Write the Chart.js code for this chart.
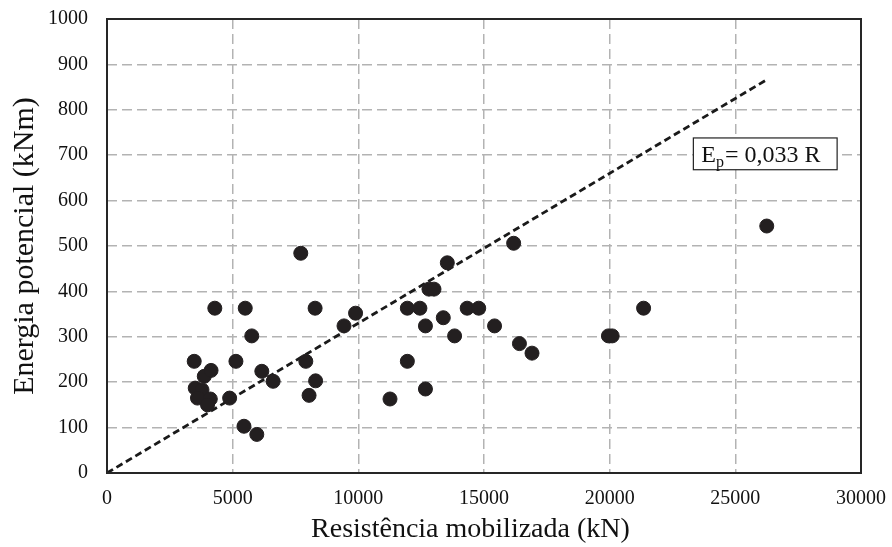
<!DOCTYPE html>
<html>
<head>
<meta charset="utf-8">
<script src="https://cdn.jsdelivr.net/npm/chart.js@4/dist/chart.umd.min.js"></script>
<style>
  html, body { margin: 0; padding: 0; background: #ffffff; }
  #wrap { width: 892px; height: 547px; }
</style>
</head>
<body>
<div id="wrap"><canvas id="c" width="892" height="547"></canvas></div>
<script>
// Data
const resistencia = [3470, 3510, 3780, 3870, 4140, 3600, 4110, 4000, 4290, 4880,
  5130, 5450, 5500, 5760, 5960, 6160, 6610, 7710, 7910, 8040,
  8280, 8300, 9430, 9890, 11260, 11950, 11950, 12450, 12670, 12670,
  12810, 13010, 13380, 13540, 13830, 14330, 14790, 15420, 16180, 16410,
  16910, 19950, 20100, 21350, 26250];
const energia = [246, 187, 183, 213, 226, 165, 163, 150, 363, 165,
  246, 103, 363, 302, 85, 224, 202, 484, 246, 171,
  363, 203, 324, 352, 163, 363, 246, 363, 324, 185,
  405, 405, 342, 463, 302, 363, 363, 324, 506, 285,
  264, 302, 302, 363, 544];
const coefficient = 0.033;          // Ep = 0,033 R
const trendX = [0, 26250];
const xTicks = [0, 5000, 10000, 15000, 20000, 25000, 30000];
const yTicks = [0, 100, 200, 300, 400, 500, 600, 700, 800, 900, 1000];
const xTitle = 'Resistência mobilizada (kN)';
const yTitle = 'Energia potencial (kNm)';

const FONT = "'Liberation Serif', 'Times New Roman', serif";

const points = resistencia.map((x, i) => ({ x: x, y: energia[i] }));
const trend = trendX.map(x => ({ x: x, y: coefficient * x }));

const frameAndLabel = {
  id: 'frameAndLabel',
  afterDatasetsDraw(chart) {
    const ctx = chart.ctx;
    const a = chart.chartArea;
    const xs = chart.scales.x, ys = chart.scales.y;
    ctx.save();
    // plot frame
    ctx.strokeStyle = '#262626';
    ctx.lineWidth = 2;
    ctx.strokeRect(a.left, a.top, a.right - a.left, a.bottom - a.top);
    // equation box
    const bx = xs.getPixelForValue(23330), by = ys.getPixelForValue(738);
    const bw = xs.getPixelForValue(29050) - bx, bh = ys.getPixelForValue(668) - by;
    ctx.fillStyle = '#ffffff';
    ctx.fillRect(bx, by, bw, bh);
    ctx.strokeStyle = '#222222';
    ctx.lineWidth = 1.2;
    ctx.strokeRect(bx, by, bw, bh);
    ctx.fillStyle = '#111111';
    ctx.textBaseline = 'alphabetic';
    ctx.textAlign = 'left';
    const base = by + bh / 2 + 8;
    let tx = bx + 8;
    ctx.font = '24px ' + FONT;
    ctx.fillText('E', tx, base);
    tx += ctx.measureText('E').width;
    ctx.font = '16px ' + FONT;
    ctx.fillText('p', tx, base + 5);
    tx += ctx.measureText('p').width + 1;
    ctx.font = '24px ' + FONT;
    ctx.fillText('= 0,033 R', tx, base);
    // x axis title
    ctx.font = '28px ' + FONT;
    ctx.textAlign = 'center';
    ctx.textBaseline = 'middle';
    ctx.fillText(xTitle, a.left + (a.right - a.left) * 0.482, 530);
    ctx.restore();
  }
};

function zeroPad(s) {
  s.paddingTop = 0; s.paddingBottom = 0; s.paddingLeft = 0; s.paddingRight = 0;
}

new Chart(document.getElementById('c'), {
  data: {
    datasets: [
      {
        type: 'line',
        label: 'Ep = 0,033 R',
        data: trend,
        borderColor: '#1a1a1a',
        borderWidth: 2.8,
        borderDash: [7, 4],
        pointRadius: 0,
        fill: false,
        order: 2
      },
      {
        type: 'scatter',
        label: 'Dados',
        data: points,
        backgroundColor: '#231f20',
        borderColor: '#231f20',
        pointRadius: 7,
        pointHoverRadius: 7,
        order: 1
      }
    ]
  },
  options: {
    responsive: false,
    animation: false,
    devicePixelRatio: 1,
    layout: { padding: { left: 0, right: 31, top: 19, bottom: 0 } },
    plugins: { legend: { display: false }, tooltip: { enabled: false } },
    scales: {
      x: {
        type: 'linear',
        min: 0, max: 30000,
        afterBuildTicks: s => { s.ticks = xTicks.map(v => ({ value: v })); },
        afterFit: s => { s.height = 74; zeroPad(s); },
        grid: { color: '#b3b3b3', lineWidth: 1.5, drawTicks: false },
        border: { display: false, dash: [10, 5] },
        ticks: {
          color: '#111111', font: { family: FONT, size: 20 }, padding: 14,
          maxRotation: 0, callback: v => String(v)
        },
        title: { display: false, text: xTitle }
      },
      y: {
        type: 'linear',
        min: 0, max: 1000,
        afterBuildTicks: s => { s.ticks = yTicks.map(v => ({ value: v })); },
        afterFit: s => { s.width = 107; zeroPad(s); },
        grid: { color: '#b3b3b3', lineWidth: 1.5, drawTicks: false },
        border: { display: false, dash: [10, 5] },
        ticks: {
          color: '#111111', font: { family: FONT, size: 20 }, padding: 19,
          callback: v => String(v)
        },
        title: {
          display: true, text: yTitle, color: '#111111',
          font: { family: FONT, size: 30 }, padding: { top: 7, bottom: 0 }
        }
      }
    }
  },
  plugins: [frameAndLabel]
});
</script>
</body>
</html>
